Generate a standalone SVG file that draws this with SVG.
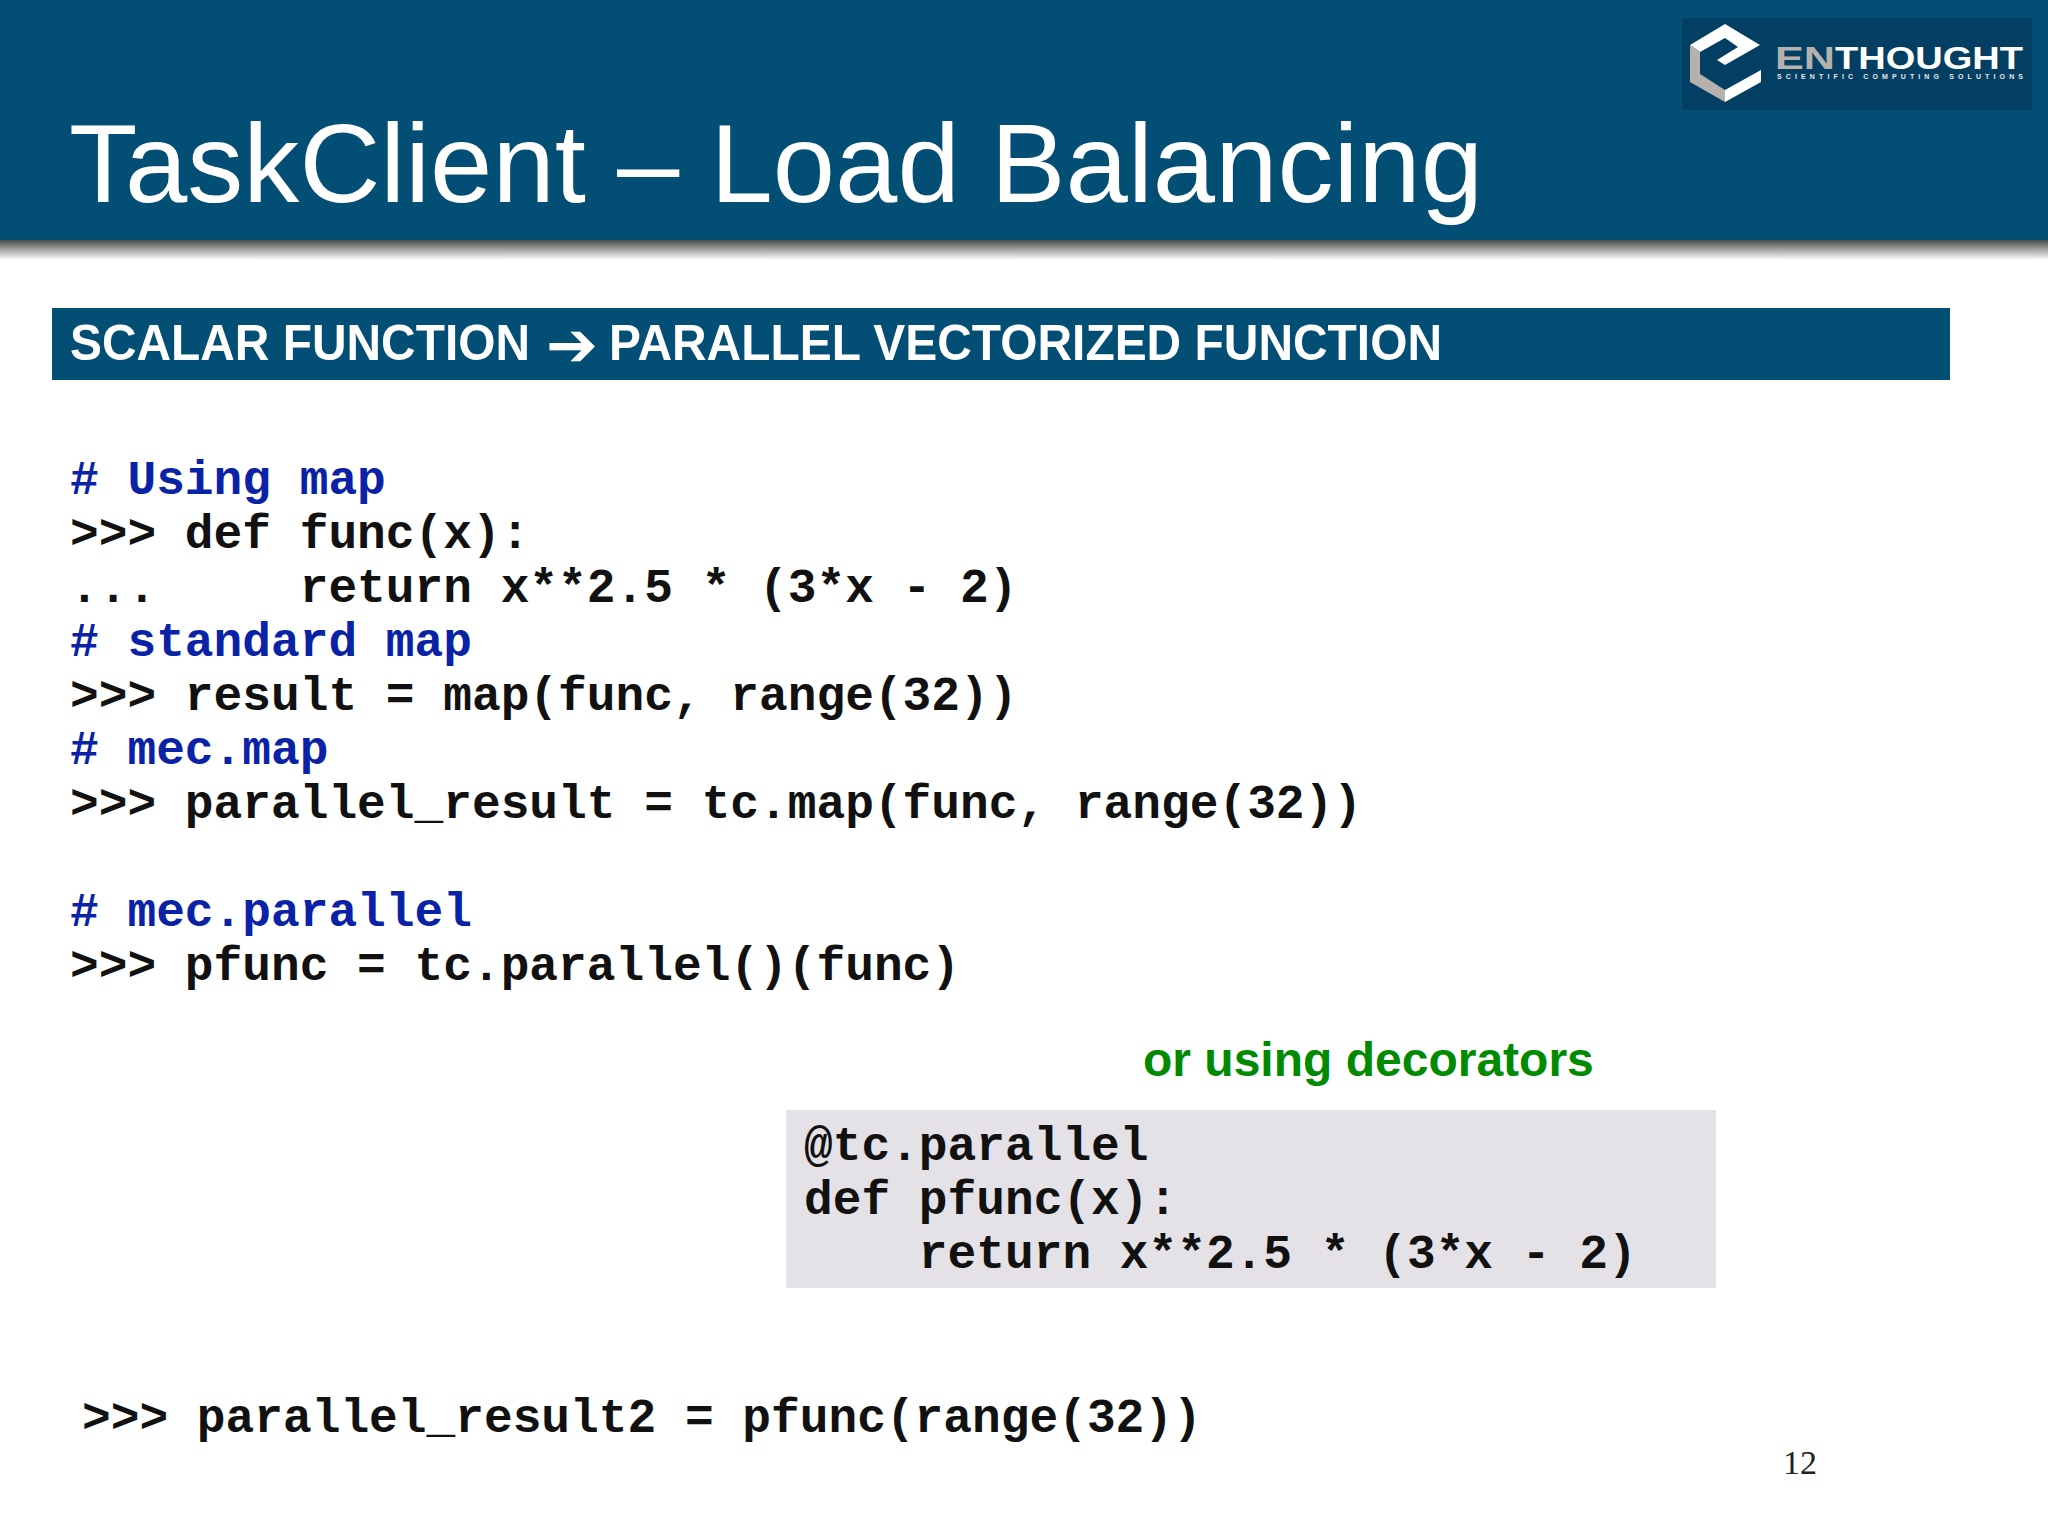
<svg xmlns="http://www.w3.org/2000/svg" width="2048" height="1536" viewBox="0 0 2048 1536">
<style>
.code{font-family:"Liberation Mono","Courier New",monospace;font-weight:700;font-size:47.85px;fill:#111;white-space:pre}
.cm{fill:#0a22a6}
.sans{font-family:"Liberation Sans",Arial,sans-serif}
</style>
<defs><linearGradient id="shadow" x1="0" y1="0" x2="0" y2="1"><stop offset="0" stop-color="#4a4a4a"/><stop offset="0.5" stop-color="#a8a8a8"/><stop offset="1" stop-color="#ffffff"/></linearGradient></defs>
<rect width="2048" height="1536" fill="#fff"/>
<g id="header">
<rect x="0" y="240" width="2048" height="20" fill="url(#shadow)"/>
<rect width="2048" height="240" fill="#024e75"/>
<text class="sans" x="69" y="202" font-size="112" fill="#fff" textLength="1414" lengthAdjust="spacingAndGlyphs">TaskClient – Load Balancing</text>
</g>
<g id="logo">
<rect x="1682" y="18" width="350" height="92" fill="#033f63"/>
<polygon points="1690,45 1725,24 1760,45 1725,65 1717,60 1738,47 1725,38 1700,52" fill="#fff"/>
<polygon points="1690,45 1700,52 1700,74 1725,90 1725,102 1690,82" fill="#b5b2ae"/>
<polygon points="1725,90 1761,70 1761,82 1725,102" fill="#fff"/>
<text class="sans" x="1775" y="69" font-size="31" font-weight="700" textLength="60" lengthAdjust="spacingAndGlyphs" fill="#b5b2ae">EN</text>
<text class="sans" x="1835" y="69" font-size="31" font-weight="700" textLength="188" lengthAdjust="spacingAndGlyphs" fill="#fff">THOUGHT</text>
<text class="sans" x="1777" y="79" font-size="7" font-weight="700" textLength="246" fill="#e8e8e8">SCIENTIFIC COMPUTING SOLUTIONS</text>
</g>
<g id="subtitle">
<rect x="52" y="308" width="1898" height="72" fill="#024e75"/>
<text class="sans" y="360" font-size="50" font-weight="700" fill="#fff"><tspan x="70" textLength="460" lengthAdjust="spacingAndGlyphs">SCALAR FUNCTION</tspan><tspan x="546" y="366" font-family="DejaVu Sans" font-size="62">➔</tspan><tspan x="609" y="360" textLength="833" lengthAdjust="spacingAndGlyphs">PARALLEL VECTORIZED FUNCTION</tspan></text>
</g>
<g id="code-main">
<text class="code cm" x="70" y="494"># Using map</text>
<text class="code" x="70" y="548">&gt;&gt;&gt; def func(x):</text>
<text class="code" x="70" y="602">...     return x**2.5 * (3*x - 2)</text>
<text class="code cm" x="70" y="656"># standard map</text>
<text class="code" x="70" y="710">&gt;&gt;&gt; result = map(func, range(32))</text>
<text class="code cm" x="70" y="764"># mec.map</text>
<text class="code" x="70" y="818">&gt;&gt;&gt; parallel_result = tc.map(func, range(32))</text>
<text class="code cm" x="70" y="926"># mec.parallel</text>
<text class="code" x="70" y="980">&gt;&gt;&gt; pfunc = tc.parallel()(func)</text>
</g>
<g id="decorators">
<text class="sans" x="1143" y="1076" font-size="48" font-weight="700" fill="#008a00">or using decorators</text>
<rect x="786" y="1110" width="930" height="178" fill="#e4e2e6"/>
<text class="code" x="804" y="1160">@tc.parallel</text>
<text class="code" x="804" y="1214">def pfunc(x):</text>
<text class="code" x="804" y="1268">    return x**2.5 * (3*x - 2)</text>
</g>
<g id="code-bottom">
<text class="code" x="82" y="1432">&gt;&gt;&gt; parallel_result2 = pfunc(range(32))</text>
</g>
<text id="page-number" x="1783" y="1474" font-family="Liberation Serif,serif" font-size="34" fill="#222">12</text>
</svg>
